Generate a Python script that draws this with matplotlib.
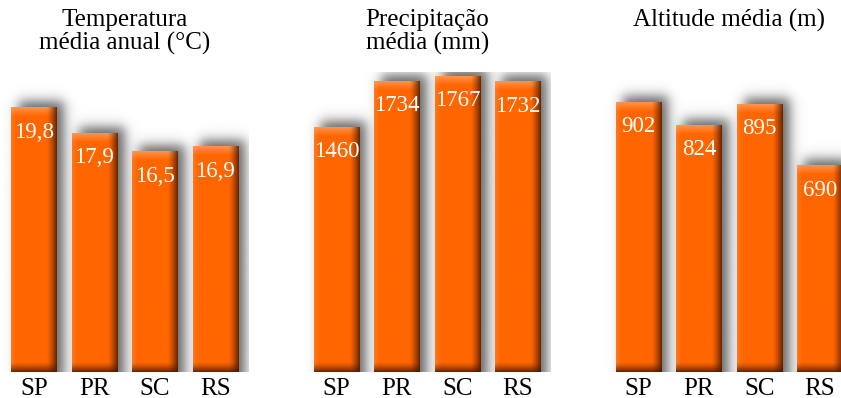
import numpy as np
from matplotlib import pyplot as plt

plt.rcParams['font.family'] = ['Liberation Serif', 'DejaVu Serif']

estados      = ['SP', 'PR', 'SC', 'RS']
temperatura  = [19.8, 17.9, 16.5, 16.9]
precipitacao = [1460, 1734, 1767, 1732]
altitude     = [902, 824, 895, 690]

titulos = ['Temperatura\nmédia anual (°C)', 'Precipitação\nmédia (mm)', 'Altitude média (m)']

W_FIG, H_FIG = 841, 398
ORANGE = np.array([1.0, 0.40, 0.0])
DARK   = np.array([0.28, 0.09, 0.0])
LIGHT  = np.array([1.0, 0.70, 0.50])


def bar_image(wp, hp):
  """Shaded face of one bar, row 0 = top"""
  X, Y = np.meshgrid(np.arange(wp) + 0.5, np.arange(hp) + 0.5)
  img = np.ones((hp, wp, 3)) * ORANGE
  fl  = np.clip(1 - X / 5, 0, 1)[..., None]
  img = img + (np.array([1.0, 0.55, 0.25]) - img) * 0.5 * fl         # left highlight
  ft  = np.clip(1 - Y / 9, 0, 1)[..., None]
  img = img + (LIGHT - img) * 0.6 * ft                                # top cap
  fr  = np.clip((X - (wp - 10)) / 10, 0, 1)[..., None] ** 1.3
  img = img + (DARK - img) * 0.85 * fr                                # right edge
  fb  = np.clip((Y - (hp - 10)) / 10, 0, 1)[..., None] ** 1.3
  img = img + (DARK - img) * 0.85 * fb                                # bottom edge
  return np.clip(img, 0, 1)


def shadow_image(wp, hp, pad, dx=7, dy=6, s=7.0):
  xs = np.arange(-pad, wp + pad) + 0.5
  ys = np.arange(0, hp + pad) + 0.5
  sx = 0.5 * (np.tanh((xs - dx) / s) - np.tanh((xs - (wp + dx)) / s))
  sy = 0.5 * (1 - np.tanh((ys - (hp + dy)) / s))
  alpha = 0.75 * np.outer(sy, sx)
  rgba  = np.zeros(alpha.shape + (4,))
  rgba[..., :3] = 0.2
  rgba[..., 3]  = alpha
  return rgba


def panel(fig, left_px, values, ytop, title, fmt):
  ax_w, ax_h = 248, 300
  bottom_px  = 26
  ax = fig.add_axes([left_px / W_FIG, bottom_px / H_FIG, ax_w / W_FIG, ax_h / H_FIG])
  ax.set_xlim(-0.55, 3.55)
  ax.set_ylim(0, ytop)
  xpos = np.arange(len(values))
  bars = ax.bar(xpos, values, width=0.744, color='#ff6600', zorder=2)

  px2x = 4.1 / ax_w
  px2y = ytop / ax_h
  pad  = 30
  for b, v in zip(bars, values):
    x0, w, h = b.get_x(), b.get_width(), b.get_height()
    wp, hp = int(round(w / px2x)), int(round(h / px2y))
    ax.imshow(shadow_image(wp, hp, pad), origin='lower', aspect='auto',
              extent=(x0 - pad * px2x, x0 + w + pad * px2x, 0, h + pad * px2y),
              zorder=1, interpolation='bilinear')
    ax.imshow(bar_image(wp, hp), origin='upper', aspect='auto',
              extent=(x0, x0 + w, 0, h), zorder=3, interpolation='bilinear')
    ax.annotate(fmt(v), (x0 + w / 2, h), xytext=(0, -10), textcoords='offset points',
                ha='center', va='top', color='white', fontsize=16.5, zorder=4)

  ax.set_xlim(-0.55, 3.55)
  ax.set_ylim(0, ytop)
  ax.set_xticks(xpos, estados)
  ax.set_yticks([])
  ax.tick_params(length=0, pad=4, labelsize=18)
  for sp in ax.spines.values():
    sp.set_visible(False)
  ax.patch.set_visible(False)

  fig.text((left_px + ax_w / 2) / W_FIG, 1 - 9 / H_FIG, title, ha='center', va='top',
           fontsize=18, linespacing=1.05)
  return ax


def main():
  fig = plt.figure(figsize=(8.41, 3.98), dpi=100)
  panel(fig, 0.7,   temperatura,  22.5, titulos[0], lambda v: f'{v:.1f}'.replace('.', ','))
  panel(fig, 303.2, precipitacao, 1791, titulos[1], lambda v: f'{v:d}')
  panel(fig, 605.2, altitude,     1003, titulos[2], lambda v: f'{v:d}')
  fig.savefig('out.png', dpi=100)


if __name__ == "__main__":
  main()
